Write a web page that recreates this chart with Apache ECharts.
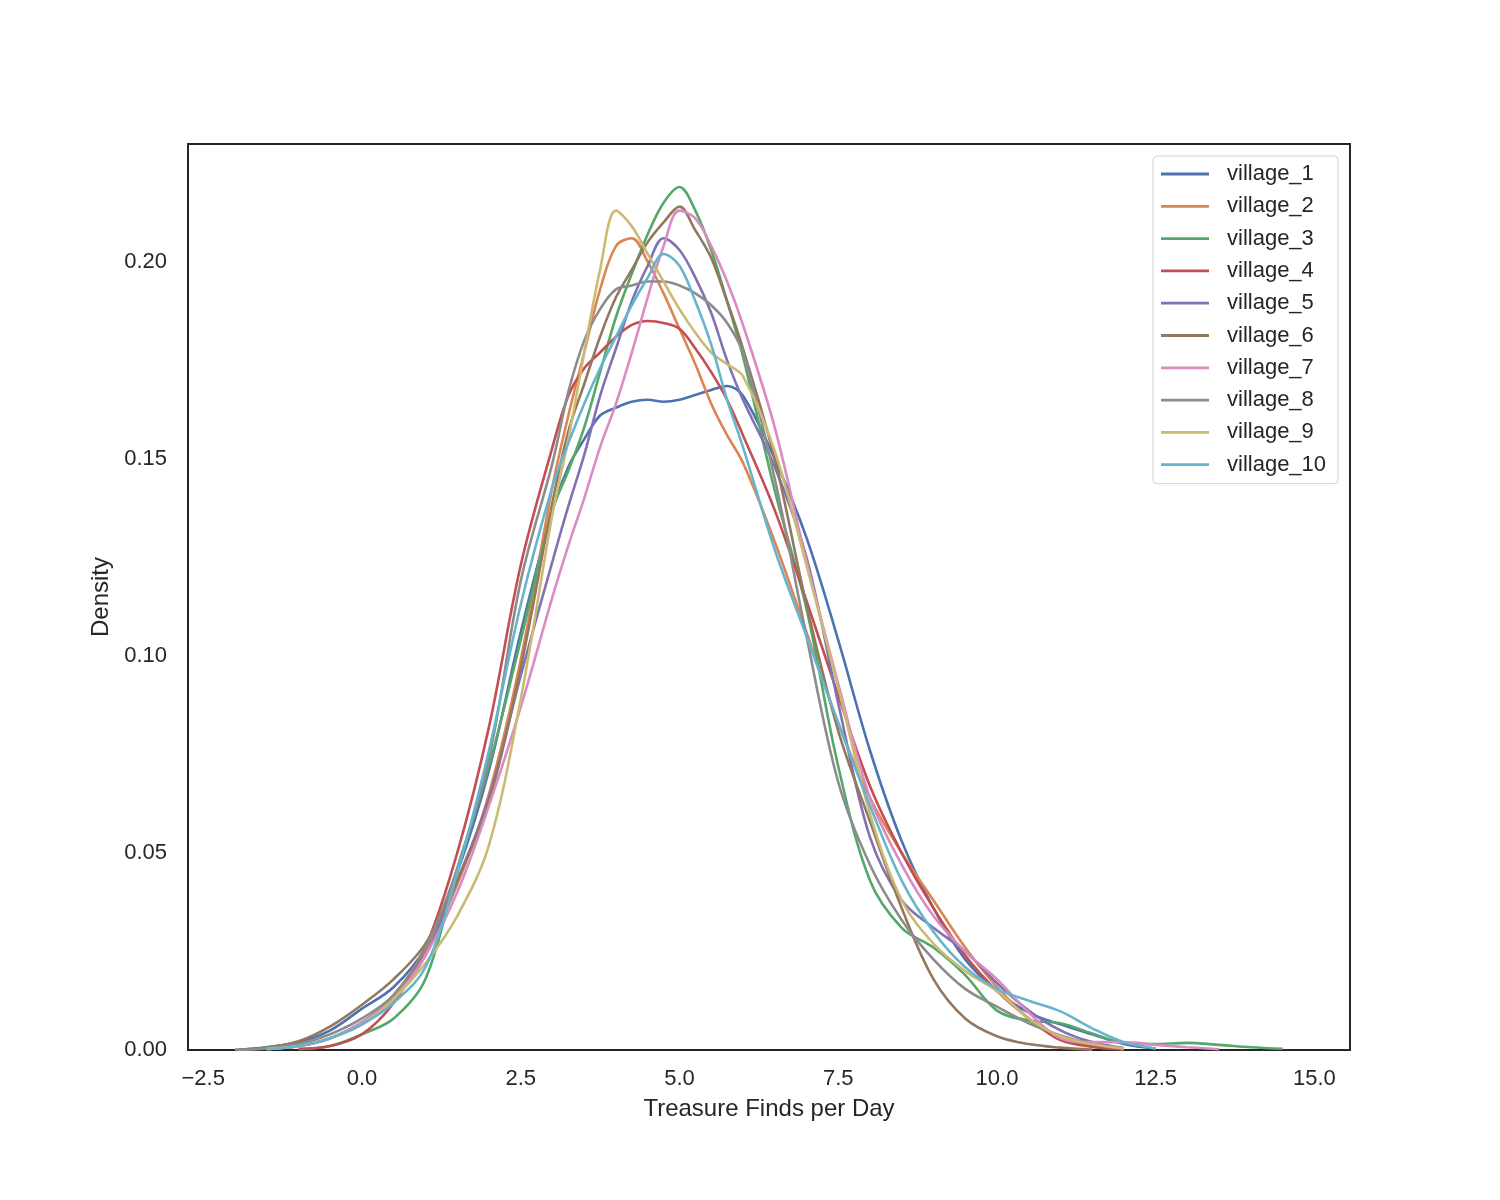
<!DOCTYPE html>
<html>
<head>
<meta charset="utf-8">
<script src="https://cdn.jsdelivr.net/npm/echarts/dist/echarts.min.js"></script>
<style>
  html, body { margin: 0; padding: 0; background: #fff; }
  #main { width: 1500px; height: 1200px; }
</style>
</head>
<body>
<div id="main"></div>
<script>
// x grid (Treasure Finds per Day), finer around the peaks
var xs = [-2, -1.5, -1, -0.5, 0, 0.5, 1, 1.5, 2, 2.5, 3, 3.25, 3.5, 3.75, 4, 4.25, 4.5, 4.75, 5, 5.25, 5.5, 5.75, 6, 6.5, 7, 7.5,
  8, 8.5, 9, 9.5, 10, 10.5, 11, 11.5, 12, 12.5, 13, 13.5, 14, 14.5, 15];

var villages = ['village_1', 'village_2', 'village_3', 'village_4', 'village_5',
  'village_6', 'village_7', 'village_8', 'village_9', 'village_10'];

var colors = ['#4C72B0', '#DD8452', '#55A868', '#C44E52', '#8172B3',
  '#937860', '#DA8BC3', '#8C8C8C', '#CCB974', '#64B5CD'];

// density values, one per x in xs (null = no curve)
var village1 = [0, 0.0007, 0.002, 0.005, 0.0105, 0.016, 0.026, 0.045, 0.071, 0.106, 0.137, 0.148, 0.155, 0.161, 0.163, 0.1645, 0.165, 0.1645, 0.165, 0.1662, 0.1675, 0.1685, 0.166, 0.150, 0.130, 0.104,
  0.076, 0.053, 0.036, 0.023, 0.015, 0.0095, 0.0065, 0.004, 0.0015, 0.0003, null, null, null, null, null];
var village2 = [null, 0.0002, 0.001, 0.003, 0.007, 0.014, 0.025, 0.042, 0.065, 0.099, 0.143, 0.161, 0.177, 0.193, 0.204, 0.206, 0.200, 0.192, 0.183, 0.174, 0.164, 0.156, 0.149, 0.129, 0.106, 0.083,
  0.064, 0.050, 0.038, 0.026, 0.016, 0.008, 0.003, 0.001, 0.0002, null, null, null, null, null, null];
var village3 = [null, null, 0.0002, 0.001, 0.004, 0.008, 0.018, 0.046, 0.072, 0.104, 0.137, 0.147, 0.158, 0.172, 0.186, 0.197, 0.207, 0.215, 0.219, 0.213, 0.203, 0.190, 0.176, 0.142, 0.112, 0.072,
  0.043, 0.031, 0.026, 0.019, 0.010, 0.0075, 0.0068, 0.0042, 0.0018, 0.0015, 0.0018, 0.0013, 0.0007, 0.0003, null];
var village4 = [null, null, 0.0003, 0.001, 0.004, 0.012, 0.026, 0.050, 0.082, 0.123, 0.153, 0.166, 0.173, 0.177, 0.181, 0.184, 0.185, 0.1845, 0.183, 0.178, 0.172, 0.165, 0.156, 0.137, 0.114, 0.090,
  0.067, 0.050, 0.036, 0.024, 0.015, 0.008, 0.0025, 0.0008, 0.0002, null, null, null, null, null, null];
var village5 = [null, 0.0002, 0.001, 0.003, 0.007, 0.013, 0.024, 0.043, 0.064, 0.095, 0.124, 0.138, 0.151, 0.166, 0.178, 0.190, 0.199, 0.206, 0.203, 0.196, 0.187, 0.175, 0.165, 0.148, 0.125, 0.088,
  0.054, 0.038, 0.031, 0.025, 0.017, 0.010, 0.005, 0.002, 0.0005, null, null, null, null, null, null];
var village6 = [0, 0.0006, 0.0022, 0.006, 0.0115, 0.018, 0.027, 0.043, 0.063, 0.097, 0.139, 0.157, 0.169, 0.181, 0.191, 0.198, 0.205, 0.210, 0.214, 0.208, 0.201, 0.190, 0.178, 0.150, 0.113, 0.081,
  0.058, 0.036, 0.018, 0.008, 0.0035, 0.0015, 0.0006, 0.0001, null, null, null, null, null, null, null];
var village7 = [null, 0.0003, 0.001, 0.003, 0.007, 0.013, 0.024, 0.040, 0.062, 0.087, 0.115, 0.128, 0.140, 0.153, 0.164, 0.177, 0.191, 0.204, 0.213, 0.211, 0.204, 0.195, 0.184, 0.158, 0.124, 0.093,
  0.064, 0.047, 0.034, 0.025, 0.018, 0.0095, 0.003, 0.002, 0.002, 0.0013, 0.0007, 0.0002, null, null, null];
var village8 = [0, 0.0004, 0.0015, 0.004, 0.008, 0.014, 0.026, 0.046, 0.074, 0.119, 0.149, 0.167, 0.180, 0.188, 0.193, 0.194, 0.195, 0.195, 0.194, 0.192, 0.189, 0.1845, 0.177, 0.145, 0.105, 0.068,
  0.047, 0.033, 0.023, 0.0155, 0.011, 0.0068, 0.0037, 0.0015, 0.0003, null, null, null, null, null, null];
var village9 = [null, 0.0003, 0.001, 0.003, 0.0065, 0.013, 0.022, 0.034, 0.052, 0.089, 0.136, 0.155, 0.177, 0.198, 0.213, 0.209, 0.202, 0.195, 0.188, 0.182, 0.177, 0.174, 0.171, 0.152, 0.123, 0.092,
  0.060, 0.038, 0.027, 0.020, 0.015, 0.008, 0.0035, 0.0015, 0.0004, null, null, null, null, null, null];
var village10 = [null, 0.0002, 0.001, 0.003, 0.0065, 0.012, 0.021, 0.045, 0.076, 0.113, 0.143, 0.154, 0.164, 0.173, 0.181, 0.189, 0.196, 0.202, 0.199, 0.190, 0.179, 0.165, 0.153, 0.127, 0.105, 0.083,
  0.062, 0.043, 0.030, 0.021, 0.0155, 0.0125, 0.0098, 0.0055, 0.002, 0.0004, null, null, null, null, null];

var xTicks = [-2.5, 0, 2.5, 5, 7.5, 10, 12.5, 15];
var yTicks = [0, 0.05, 0.10, 0.15, 0.20];

var allValues = [village1, village2, village3, village4, village5,
  village6, village7, village8, village9, village10];

var font = "'Liberation Sans', Arial, sans-serif";
var textColor = '#262626';

var seriesList = [];
for (var i = 0; i < villages.length; i++) {
  var pts = [];
  for (var j = 0; j < xs.length; j++) {
    if (allValues[i][j] !== null) pts.push([xs[j], allValues[i][j]]);
  }
  seriesList.push({
    name: villages[i],
    type: 'line',
    data: pts,
    smooth: 0.35,
    symbol: 'none',
    lineStyle: { width: 2.6, color: colors[i] },
    itemStyle: { color: colors[i] }
  });
}

var myChart = echarts.init(document.getElementById('main'), null, { renderer: 'canvas' });
var option = {
  animation: false,
  backgroundColor: '#ffffff',
  color: colors,
  textStyle: { fontFamily: font },
  grid: {
    left: 188, right: 150, top: 144, bottom: 150,
    show: true, borderColor: '#262626', borderWidth: 2, backgroundColor: '#ffffff'
  },
  legend: {
    orient: 'vertical',
    left: 1153,
    top: 156,
    padding: [7, 12, 8, 8],
    itemWidth: 48,
    itemHeight: 14,
    itemGap: 10.3,
    icon: 'path://M0,0 L48,0 L48,2.8 L0,2.8 Z',
    textStyle: { fontSize: 22, color: textColor, fontFamily: font, lineHeight: 22, padding: [0, 0, 0, 13] },
    borderColor: '#d0d0d0',
    borderWidth: 1,
    borderRadius: 4,
    backgroundColor: 'rgba(255,255,255,0.8)',
    data: villages
  },
  xAxis: {
    type: 'value',
    min: -2.74,
    max: 15.56,
    name: 'Treasure Finds per Day',
    nameLocation: 'middle',
    nameGap: 47,
    nameTextStyle: { fontSize: 24, color: textColor, fontFamily: font },
    axisLine: { show: false },
    axisTick: { show: false },
    splitLine: { show: false },
    axisLabel: {
      customValues: xTicks,
      fontSize: 22, color: textColor, margin: 18,
      formatter: function (v) { return v < 0 ? '\u2212' + Math.abs(v).toFixed(1) : v.toFixed(1); }
    }
  },
  yAxis: {
    type: 'value',
    min: 0,
    max: 0.2299,
    name: 'Density',
    nameLocation: 'middle',
    nameGap: 74,
    nameRotate: 90,
    nameTextStyle: { fontSize: 24, color: textColor, fontFamily: font },
    axisLine: { show: false },
    axisTick: { show: false },
    splitLine: { show: false },
    axisLabel: {
      customValues: yTicks,
      fontSize: 22, color: textColor, margin: 21,
      formatter: function (v) { return v.toFixed(2); }
    }
  },
  series: seriesList
};
myChart.setOption(option);
</script>
</body>
</html>
